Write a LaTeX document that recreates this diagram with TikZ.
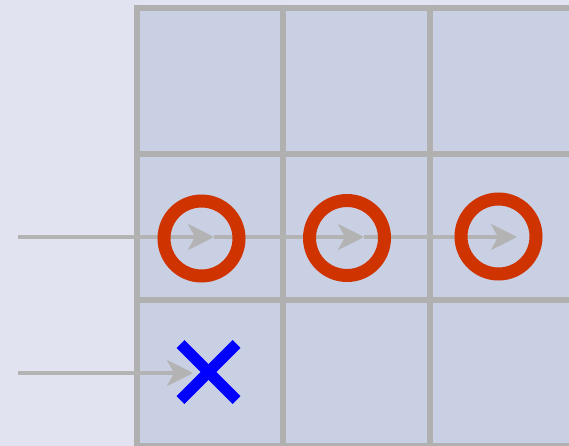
\documentclass[tikz,border=0pt]{standalone}
\usetikzlibrary{arrows.meta}
\definecolor{bgc}{HTML}{E1E4F0}
\definecolor{cellc}{HTML}{C9D0E3}
\definecolor{gridc}{HTML}{B0B0B0}
\definecolor{arrc}{HTML}{B3B3B3}
\definecolor{ringc}{HTML}{CF3300}
\definecolor{crossc}{HTML}{0000FF}
\tikzset{
  gridline/.style={draw=gridc,line width=6pt},
  flow/.style={draw=arrc,line width=3.3pt,-{Stealth[length=26pt,width=26pt,inset=7pt]}},
  ring/.style={circle,draw=ringc,line width=13pt,minimum size=75pt,inner sep=0pt,outer sep=0pt},
  xbox/.style={rectangle,minimum size=56pt,inner sep=0pt,outer sep=0pt},
  xstroke/.style={draw=crossc,line width=11pt,line cap=butt}
}
\begin{document}
\begin{tikzpicture}[x=1pt,y=-1pt]
\useasboundingbox (0,0) rectangle (569,446);
\clip (0,0) rectangle (569,446);
\fill[bgc] (0,0) rectangle (569,446);
\fill[cellc] (136.5,8) rectangle (600,460);
\foreach \x in {136.5,283,429.5} \draw[gridline] (\x,5) -- (\x,460);
\foreach \y in {8,154,300,446} \draw[gridline] (133.5,\y) -- (600,\y);
% arrows
\coordinate (s1) at (18,237);
\coordinate (t1) at (214,237);
\coordinate (t2) at (364,237);
\coordinate (t3) at (517,237);
\coordinate (s2) at (18,373);
\coordinate (t4) at (193,373);
\draw[flow] (s1) -- (t1);
\draw[flow] (t1) -- (t2);
\draw[flow] (t2) -- (t3);
\draw[flow] (s2) -- (t4);
% marks
\node[ring] (r1) at (201.5,238.5) {};
\node[ring] (r2) at (347,238) {};
\node[ring] (r3) at (498.5,236.5) {};
\node[xbox] (x1) at (208.5,372) {};
\draw[xstroke] (x1.north west) -- (x1.south east);
\draw[xstroke] (x1.north east) -- (x1.south west);
\end{tikzpicture}
\end{document}
